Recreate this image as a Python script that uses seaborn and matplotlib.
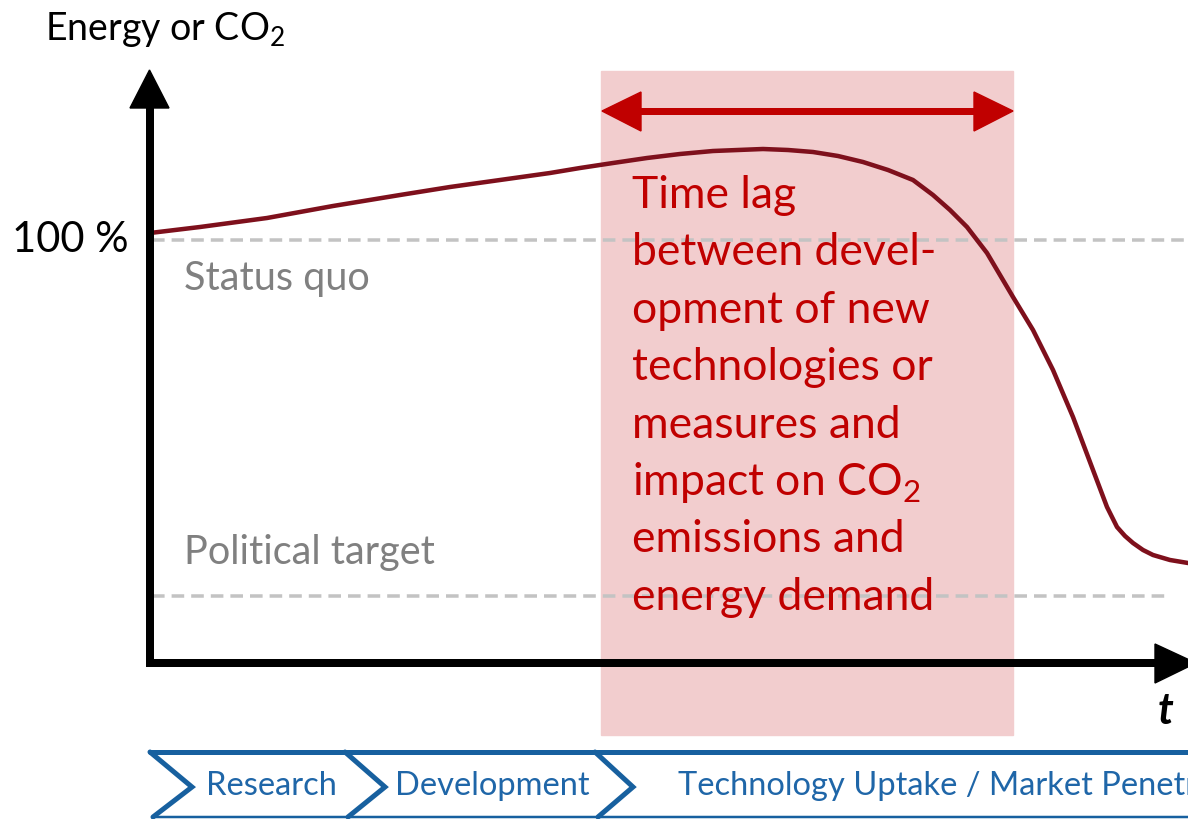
import matplotlib
matplotlib.use("Agg")
import matplotlib.pyplot as plt
import seaborn as sns

# curve (x, y in image pixels, y grows downwards)
curve_x = [150, 200, 267, 333, 400, 450, 500, 550, 580, 613, 647, 680, 713, 738,
           763, 788, 813, 838, 863, 888, 913, 933, 950, 967, 987, 1000, 1013,
           1033, 1053, 1073, 1093, 1107, 1117, 1125, 1133, 1143, 1153, 1170, 1188]
curve_y = [233, 227, 218, 206, 195, 187, 180, 173, 168, 163, 158, 154, 151, 150,
           149, 150, 152, 156, 162, 170, 180, 195, 210, 227, 253, 275, 297,
           330, 370, 417, 470, 507, 527, 536, 543, 550, 555, 560, 563]

lag_lines = ["Time lag", "between devel-", "opment of new", "technologies or",
             "measures and", "impact on CO$_\\mathregular{2}$", "emissions and",
             "energy demand"]
phases = ["Research", "Development", "Technology Uptake / Market Penetration"]

sns.set_style("white")
plt.rcParams['font.family'] = ['Lato', 'DejaVu Sans']
plt.rcParams['mathtext.fontset'] = 'custom'
plt.rcParams['mathtext.rm'] = 'Lato'

fig = plt.figure(figsize=(11.88, 8.19), dpi=100)
ax = fig.add_axes([0, 0, 1, 1])
ax.set_xlim(0, 1188)
ax.set_ylim(819, 0)
ax.axis('off')

PX = 72 / 100  # points per pixel

# time lag band
ax.add_patch(plt.Rectangle((601, 71), 412, 664, color='#f2cdce', zorder=0))

# reference levels
ax.plot([152, 1188], [240, 240], color='#c3c3c3', lw=3.5 * PX, dashes=(3.6, 2.0), zorder=1)
ax.plot([152, 1168], [596, 596], color='#c3c3c3', lw=3.5 * PX, dashes=(3.6, 2.0), zorder=1)

# curve
sns.lineplot(x=curve_x, y=curve_y, ax=ax, color='#7e101c', linewidth=4.5 * PX, zorder=3)

# axes arrows
ax.plot([150, 150], [666, 100], color='black', lw=8 * PX, solid_capstyle='butt', zorder=4)
ax.plot([146, 1160], [663, 663], color='black', lw=8 * PX, solid_capstyle='butt', zorder=4)
ax.fill([130, 169, 149.5], [108, 108, 70], color='black', zorder=4)
ax.fill([1155, 1155, 1196], [644, 683, 663], color='black', zorder=4)

# red double arrow
ax.plot([635, 980], [111, 111], color='#c00000', lw=7 * PX, zorder=4)
ax.fill([602, 641, 641], [111, 92, 131], color='#c00000', zorder=4)
ax.fill([1013, 974, 974], [111, 92, 131], color='#c00000', zorder=4)

# texts
ax.text(45, 40, "Energy or CO$_\\mathregular{2}$", fontsize=27, color='black', va='baseline')
ax.text(12, 252, "100 %", fontsize=30, color='black', va='baseline')
ax.text(184, 290, "Status quo", fontsize=28.5, color='#808080', va='baseline')
ax.text(184, 564, "Political target", fontsize=28.5, color='#808080', va='baseline')
ax.text(1166, 724, "t", fontsize=31, color='black', fontweight='bold',
        fontstyle='italic', va='baseline', ha='center')

for i, line in enumerate(lag_lines):
    ax.text(632, 208 + i * 57.4, line, fontsize=32, color='#c00000', va='baseline')

# phase chevrons
blue = '#17609f'
ax.plot([150, 1188], [752, 752], color=blue, lw=5 * PX, zorder=5)
ax.plot([155, 1188], [817, 817], color=blue, lw=2.5 * PX, zorder=5)
for x0, tip in [(150, 192), (345, 385), (595, 633)]:
    ax.plot([x0, tip, x0 + 3], [752, 787, 817], color=blue, lw=5 * PX,
            solid_joinstyle='miter', zorder=5)

ax.text(271, 786, phases[0], fontsize=23.5, color='#1f66a8', ha='center', va='center')
ax.text(492, 786, phases[1], fontsize=23.5, color='#1f66a8', ha='center', va='center')
ax.text(678, 786, phases[2], fontsize=23.5, color='#1f66a8', ha='left', va='center')

fig.savefig('out.png', dpi=100)
